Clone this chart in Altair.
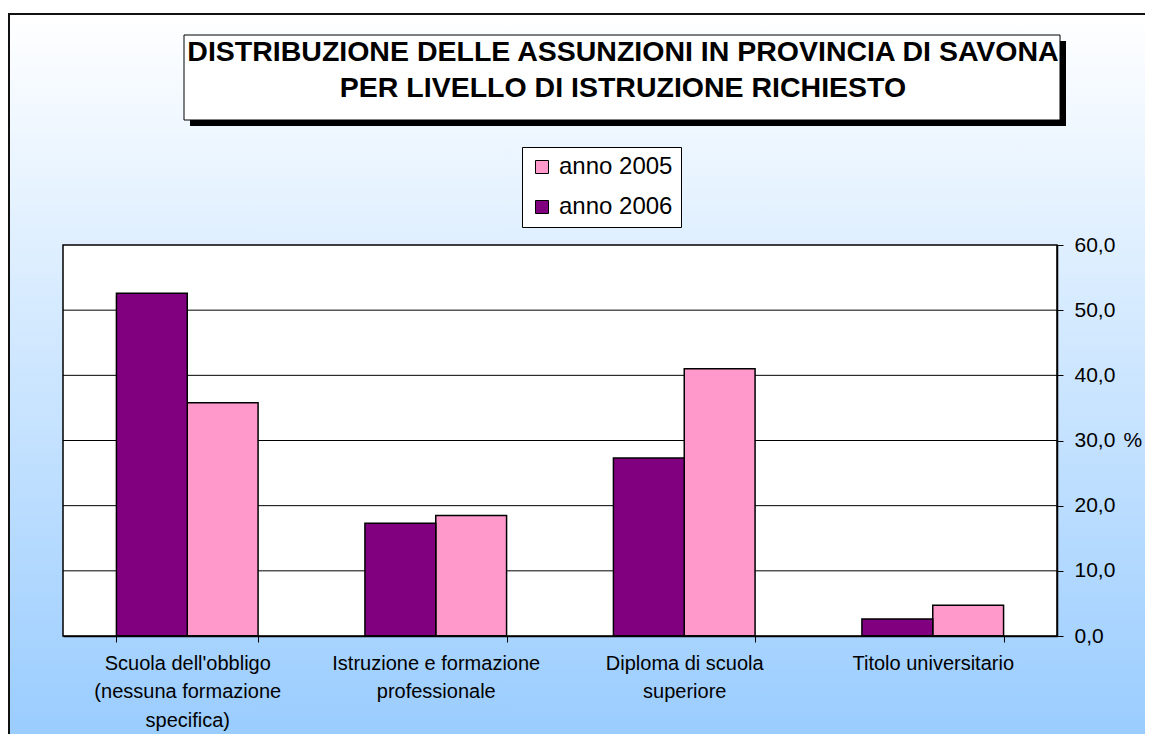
import altair as alt
import pandas as pd

categorie = [
    "Scuola dell'obbligo\n(nessuna formazione\nspecifica)",
    "Istruzione e formazione\nprofessionale",
    "Diploma di scuola\nsuperiore",
    "Titolo universitario",
]
anni = ["anno 2005", "anno 2006"]
valori_2005 = [35.8, 18.5, 41.0, 4.7]
valori_2006 = [52.6, 17.3, 27.3, 2.6]
titolo = [
    "DISTRIBUZIONE DELLE ASSUNZIONI IN PROVINCIA DI SAVONA",
    "PER LIVELLO DI ISTRUZIONE RICHIESTO",
]
griglia = [10, 20, 30, 40, 50]
tick_y = [0, 10, 20, 30, 40, 50, 60]

rows = []
for c, a, b in zip(categorie, valori_2005, valori_2006):
    rows.append({"categoria": c, "anno": "anno 2005", "valore": a})
    rows.append({"categoria": c, "anno": "anno 2006", "valore": b})
df = pd.DataFrame(rows)

FONT = "Liberation Sans"
W, H = 994, 391
one = pd.DataFrame({"k": [0]})

yscale = alt.Scale(domain=[0, 60], nice=False, zero=True)
yaxis = alt.Axis(
    orient="right", values=tick_y, grid=False, title="%", titleAngle=0,
    titleAlign="left", titleBaseline="middle", titleX=66, titleY=H / 2,
    titleFont=FONT, titleFontSize=21, titleFontWeight="normal", titleColor="black",
    labelExpr="replace(format(datum.value, '.1f'), '.', ',')",
    labelFont=FONT, labelFontSize=21, labelColor="black", labelPadding=11,
    tickSize=6, tickColor="black", domainColor="black", domainWidth=1.5,
    zindex=1,
)

bg = alt.Chart(one).mark_rect(
    fill={"gradient": "linear", "x1": 0, "y1": 0, "x2": 0, "y2": 1,
          "stops": [{"offset": 0, "color": "#FFFFFF"}, {"offset": 1, "color": "#99CCFF"}]},
    stroke="#111111", strokeWidth=2,
).encode(x=alt.value(-54), x2=alt.value(1100), y=alt.value(-231), y2=alt.value(497))

plotbg = alt.Chart(one).mark_rect(fill="white").encode(
    x=alt.value(0), x2=alt.value(W), y=alt.value(0), y2=alt.value(H))

grid_df = pd.DataFrame({"v": griglia})
grid = alt.Chart(grid_df).mark_rule(color="black", strokeWidth=1).encode(
    y=alt.Y("v:Q", scale=yscale, axis=yaxis))

bars = alt.Chart(df).mark_bar(stroke="black", strokeWidth=1.5).encode(
    x=alt.X("categoria:N", sort=categorie, title=None,
            scale=alt.Scale(paddingInner=0.43, paddingOuter=0.215),
            axis=alt.Axis(labelAngle=0, labelExpr="split(datum.label, '\\n')",
                          labelFont=FONT, labelFontSize=20, labelColor="black",
                          labelLineHeight=28.5, labelPadding=11, labelBaseline="top",
                          labelLimit=400,
                          tickBand="extent", tickSize=6, tickColor="black",
                          domainColor="black", domainWidth=1.5, grid=False, zindex=1)),
    xOffset=alt.XOffset("anno:N", sort=["anno 2006", "anno 2005"],
                        scale=alt.Scale(paddingInner=0, paddingOuter=0)),
    y=alt.Y("valore:Q", scale=yscale, axis=yaxis),
    color=alt.Color("anno:N",
                    scale=alt.Scale(domain=anni, range=["#FF99CC", "#800080"]),
                    legend=alt.Legend(
                        title=None, orient="none", legendX=459, legendY=-98,
                        fillColor="white", strokeColor="black", padding=8,
                        symbolType="square", symbolSize=169,
                        symbolStrokeColor="black", symbolStrokeWidth=1,
                        symbolOpacity=1,
                        labelFont=FONT, labelFontSize=24, labelColor="black",
                        labelOffset=5, rowPadding=16, zindex=1)),
)

border = alt.Chart(one).mark_rect(fill="transparent", stroke="black", strokeWidth=1.5).encode(
    x=alt.value(0), x2=alt.value(W), y=alt.value(0), y2=alt.value(H))

shadow = alt.Chart(one).mark_rect(fill="black").encode(
    x=alt.value(127), x2=alt.value(1003), y=alt.value(-204), y2=alt.value(-119))
tbox = alt.Chart(one).mark_rect(fill="white", stroke="black", strokeWidth=1).encode(
    x=alt.value(121), x2=alt.value(997), y=alt.value(-210), y2=alt.value(-125))

t1 = alt.Chart(pd.DataFrame({"t": [titolo[0]]})).mark_text(
    font=FONT, fontSize=28.5, fontWeight="bold", color="black",
    align="center", baseline="middle").encode(x=alt.value(560), y=alt.value(-193), text="t:N")
t2 = alt.Chart(pd.DataFrame({"t": [titolo[1]]})).mark_text(
    font=FONT, fontSize=28.5, fontWeight="bold", color="black",
    align="center", baseline="middle").encode(x=alt.value(560), y=alt.value(-157), text="t:N")

chart = alt.layer(bg, plotbg, grid, bars, border, shadow, tbox, t1, t2).properties(
    width=W, height=H,
    autosize=alt.AutoSizeParams(type="none"),
    padding={"left": 55, "top": 237, "right": 88, "bottom": 98},
).configure_view(stroke=None).resolve_scale(y="shared")

chart.save("out.html", embed_options={"renderer": "svg", "actions": False})
